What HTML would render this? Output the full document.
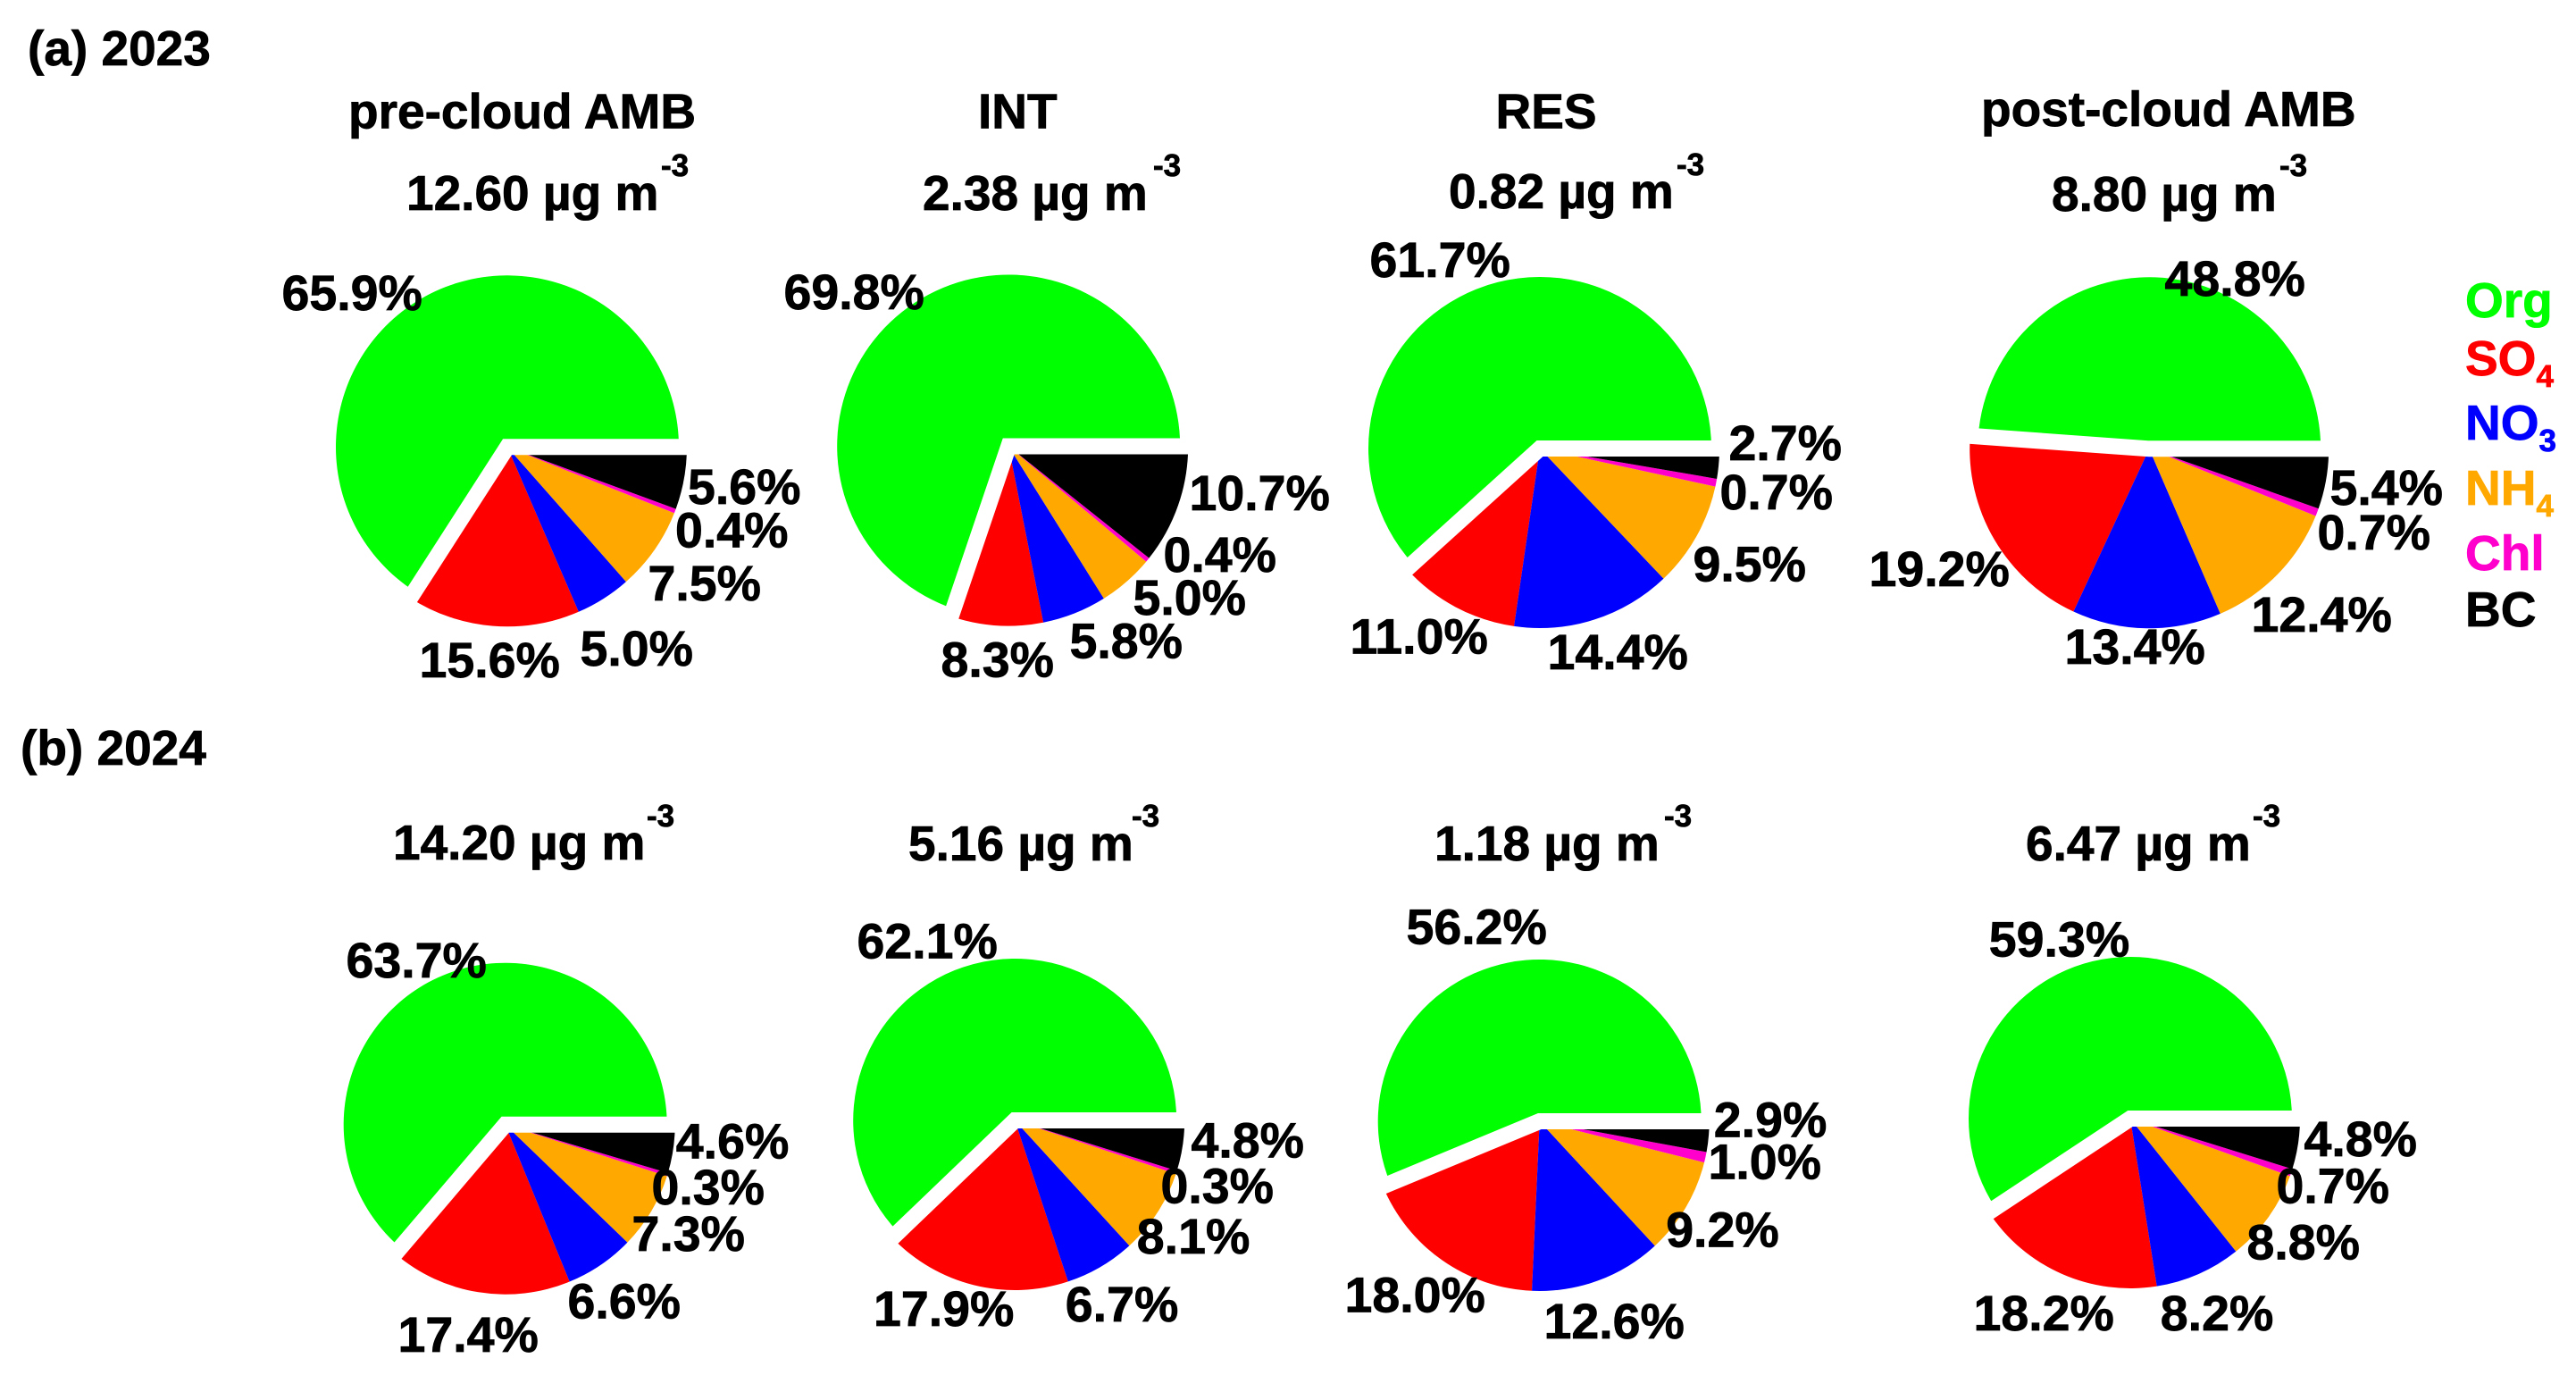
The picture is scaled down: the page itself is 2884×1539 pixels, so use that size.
<!DOCTYPE html>
<html lang="en">
<head>
<meta charset="utf-8">
<title>Aerosol composition pies, 2023 and 2024</title>
<style>
html,body{margin:0;padding:0;background:#fff;}
svg{display:block;}
text{font-family:"Liberation Sans",Arial,sans-serif;font-weight:700;font-size:55px;fill:#000;stroke:#000;stroke-width:0.8px;text-rendering:geometricPrecision;}
.sup{font-size:35px;}
.lab{font-size:55.5px;}
</style>
</head>
<body>
<svg id="chart" xmlns="http://www.w3.org/2000/svg" width="2884" height="1539" viewBox="0 0 2884 1539">
  <rect x="0" y="0" width="2884" height="1539" fill="#ffffff"/>

  <g id="pies"></g>
  <g id="labels" transform="translate(1.5,0)"></g>

  <text x="31" y="73">(a) 2023</text>
  <text x="23" y="856">(b) 2024</text>

  <text x="390" y="143.6">pre-cloud AMB</text>
  <text x="1095" y="143.6">INT</text>
  <text x="1674.5" y="143.6">RES</text>
  <text x="2218" y="141">post-cloud AMB</text>

  <text x="455" y="235">12.60 µg m</text>
  <text class="sup" x="740" y="197">-3</text>
  <text x="1033" y="235">2.38 µg m</text>
  <text class="sup" x="1291" y="197">-3</text>
  <text x="1622" y="233">0.82 µg m</text>
  <text class="sup" x="1877" y="196">-3</text>
  <text x="2297" y="236">8.80 µg m</text>
  <text class="sup" x="2552" y="197">-3</text>

  <text x="440" y="962">14.20 µg m</text>
  <text class="sup" x="724" y="925">-3</text>
  <text x="1017" y="963">5.16 µg m</text>
  <text class="sup" x="1267" y="925">-3</text>
  <text x="1606" y="963">1.18 µg m</text>
  <text class="sup" x="1863" y="925">-3</text>
  <text x="2268" y="963">6.47 µg m</text>
  <text class="sup" x="2522" y="925">-3</text>

  <g>
    <text x="2760" y="355" style="fill:#00ff00;stroke:#00ff00">Org</text>
    <text x="2760" y="420" style="fill:#ff0000;stroke:#ff0000">SO<tspan class="sup" dy="13">4</tspan></text>
    <text x="2760" y="492" style="fill:#0000ff;stroke:#0000ff">NO<tspan class="sup" dy="13">3</tspan></text>
    <text x="2760" y="565" style="fill:#ffa800;stroke:#ffa800">NH<tspan class="sup" dy="13">4</tspan></text>
    <text x="2760" y="638" style="fill:#ff00cc;stroke:#ff00cc">Chl</text>
    <text x="2760" y="701" style="fill:#000000;stroke:#000000">BC</text>
  </g>
</svg>

<script>
// ---- data: percentage of each species per pie, counter-clockwise from 3 o'clock ----
const categories = ['Org', 'SO4', 'NO3', 'NH4', 'Chl', 'BC'];
const seriesColors = ['#00ff00', '#ff0000', '#0000ff', '#ffa800', '#ff00cc', '#000000'];
const preCloud2023 = [65.9, 15.6, 5.0, 7.5, 0.4, 5.6];
const int2023 = [69.8, 8.3, 5.8, 5.0, 0.4, 10.7];
const res2023 = [61.7, 11.0, 14.4, 9.5, 0.7, 2.7];
const postCloud2023 = [48.8, 19.2, 13.4, 12.4, 0.7, 5.4];
const preCloud2024 = [63.7, 17.4, 6.6, 7.3, 0.3, 4.6];
const int2024 = [62.1, 17.9, 6.7, 8.1, 0.3, 4.8];
const res2024 = [56.2, 18.0, 12.6, 9.2, 1.0, 2.9];
const postCloud2024 = [59.3, 18.2, 8.2, 8.8, 0.7, 4.8];

// ---- layout only: pie placement and hand-placed label anchors (x, baseline) ----
const bandWidth = 18;
const pieLayout = [
  {name:'2023-pre-cloud',  values:preCloud2023,  cx:568,    cy:500.3, rOrg:192, rRest:201,
   labelAt:[[314,347],[468,758],[648,745],[724,672],[754.5,612.7],[768.5,564]]},
  {name:'2023-int',        values:int2023,       cx:1129.2, cy:499.5, rOrg:192, rRest:201,
   labelAt:[[876,346],[1052,757.7],[1196,736.7],[1267,688],[1301,640],[1330,571]]},
  {name:'2023-res',        values:res2023,       cx:1724,   cy:502,   rOrg:192, rRest:201,
   labelAt:[[1532,310],[1510,731.7],[1731,749],[1894,650.7],[1924,570],[1934,515]]},
  {name:'2023-post-cloud', values:postCloud2023, cx:2406.2, cy:502.3, rOrg:192, rRest:201,
   labelAt:[[2422,331],[2091,656],[2310,743],[2519,707],[2593,615],[2607,565]]},
  {name:'2024-pre-cloud',  values:preCloud2024,  cx:565.7,  cy:1258.7, rOrg:181, rRest:190,
   labelAt:[[386,1094],[444,1513],[634,1475.7],[706,1400],[728,1348],[755.3,1296.3]]},
  {name:'2024-int',        values:int2024,       cx:1136.2, cy:1254,  rOrg:181, rRest:190,
   labelAt:[[958,1072.3],[976.5,1484],[1191.3,1479],[1271.3,1403],[1298,1346.3],[1332,1295.7]]},
  {name:'2024-res',        values:res2024,       cx:1723.7, cy:1255,  rOrg:181, rRest:190,
   labelAt:[[1573,1056.7],[1504,1468.3],[1727,1498],[1863.7,1395.7],[1911,1319.7],[1917.3,1272.3]]},
  {name:'2024-post-cloud', values:postCloud2024, cx:2385,   cy:1252,  rOrg:181, rRest:190,
   labelAt:[[2225.3,1070.7],[2208,1489],[2417.3,1489],[2514,1409.7],[2547,1346.3],[2578,1294]]}
];

// ---- angular axis: cumulative percent -> point on a pie ----
const SVG_NS = 'http://www.w3.org/2000/svg';
function angleOf(pct, total) {
  return (pct / total) * 2 * Math.PI;
}
function pointAt(p, radius, pct, total) {
  const a = angleOf(pct, total);
  return [p.cx + radius * Math.cos(a), p.cy - radius * Math.sin(a)];
}
function wedgePath(p, radius, from, to, total) {
  const s = pointAt(p, radius, from, total);
  const e = pointAt(p, radius, to, total);
  const large = (to - from) / total > 0.5 ? 1 : 0;
  return 'M' + p.cx + ' ' + p.cy +
    'L' + s[0].toFixed(2) + ' ' + s[1].toFixed(2) +
    'A' + radius + ' ' + radius + ' 0 ' + large + ' 0 ' + e[0].toFixed(2) + ' ' + e[1].toFixed(2) + 'Z';
}

const pieRoot = document.getElementById('pies');
const labelRoot = document.getElementById('labels');

pieLayout.forEach(function (p) {
  const total = p.values.reduce(function (a, b) { return a + b; }, 0);
  const group = document.createElementNS(SVG_NS, 'g');
  
  
  pieRoot.appendChild(group);

  let cum = 0;
  p.values.forEach(function (v, i) {
    const radius = i === 0 ? p.rOrg : p.rRest;
    const path = document.createElementNS(SVG_NS, 'path');
    path.setAttribute('d', wedgePath(p, radius, cum, cum + v, total));
    path.setAttribute('fill', seriesColors[i]);
    
    
    group.appendChild(path);
    cum += v;
  });

  // white separator running along both edges of the Org slice
  const reach = p.rRest + 30;
  const farEnd = pointAt(p, reach, p.values[0], total);
  const farStart = pointAt(p, reach, 0, total);
  const band = document.createElementNS(SVG_NS, 'polyline');
  band.setAttribute('points', farEnd[0].toFixed(2) + ',' + farEnd[1].toFixed(2) + ' ' + p.cx + ',' + p.cy + ' ' + farStart[0].toFixed(2) + ',' + farStart[1].toFixed(2));
  band.setAttribute('fill', 'none');
  band.setAttribute('stroke', '#ffffff');
  band.setAttribute('stroke-width', bandWidth);
  band.setAttribute('stroke-linejoin', 'miter');
  band.setAttribute('stroke-miterlimit', '30');
  
  
  group.appendChild(band);

  p.values.forEach(function (v, i) {
    const t = document.createElementNS(SVG_NS, 'text');
    t.setAttribute('x', p.labelAt[i][0]);
    t.setAttribute('y', p.labelAt[i][1]);
    t.setAttribute('class', 'lab');
    
    
    t.textContent = v.toFixed(1) + '%';
    labelRoot.appendChild(t);
  });
});
</script>
</body>
</html>
